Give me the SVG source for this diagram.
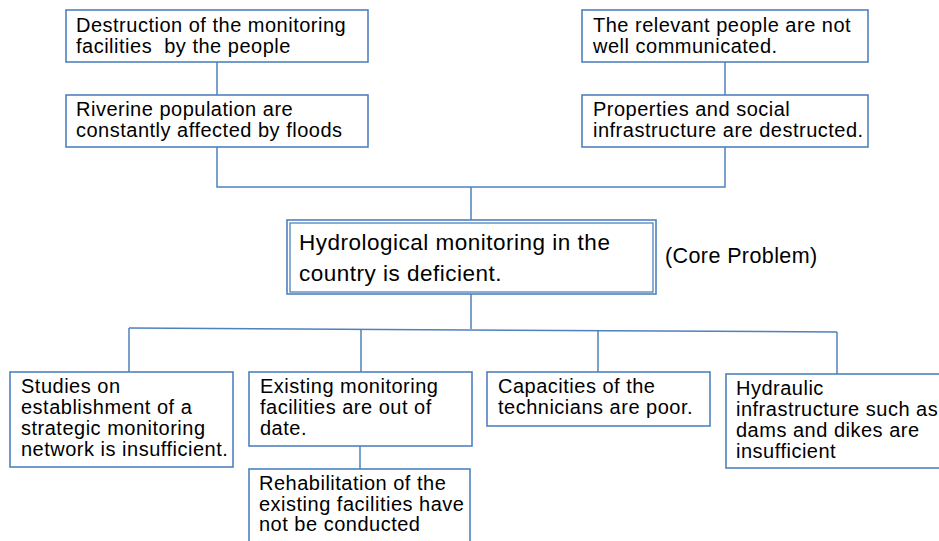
<svg xmlns="http://www.w3.org/2000/svg" width="939" height="541" viewBox="0 0 939 541">
<style>
.box{fill:#fff;stroke:#4f81bd;stroke-width:1.6}
.dbl{fill:none;stroke:#4f81bd;stroke-width:1.3}
.ln{fill:none;stroke:#4f81bd;stroke-width:1.5}
text{font-family:"Liberation Sans",Arial,sans-serif;font-size:20px;letter-spacing:0.5px;fill:#000;white-space:pre}
.core{font-size:22.5px}
.lbl{font-size:21.5px;letter-spacing:0.4px}
</style>
<rect width="939" height="541" fill="#fff"/>
<g id="connectors">
<line class="ln" x1="217" y1="62" x2="217" y2="95"/>
<line class="ln" x1="725" y1="62" x2="725" y2="95"/>
<polyline class="ln" points="217,147 217,187 725,187 725,147"/>
<line class="ln" x1="471" y1="187" x2="471" y2="220"/>
<line class="ln" x1="471" y1="294" x2="471" y2="329"/>
<line class="ln" x1="129" y1="328" x2="837" y2="332"/>
<line class="ln" x1="129" y1="328" x2="129" y2="372"/>
<line class="ln" x1="361" y1="329" x2="361" y2="372"/>
<line class="ln" x1="598" y1="330.7" x2="598" y2="372"/>
<line class="ln" x1="837" y1="332" x2="837" y2="374"/>
<line class="ln" x1="360" y1="446" x2="360" y2="469"/>
</g>
<g id="n1">
<rect class="box" x="66" y="10" width="302" height="52"/>
<text x="76" y="32">Destruction of the monitoring</text>
<text x="76" y="53" xml:space="preserve">facilities  by the people</text>
</g>
<g id="n2">
<rect class="box" x="66" y="95" width="302" height="52"/>
<text x="76" y="116">Riverine population are</text>
<text x="76" y="137">constantly affected by floods</text>
</g>
<g id="n3">
<rect class="box" x="582" y="10" width="286" height="52"/>
<text x="593" y="32">The relevant people are not</text>
<text x="593" y="53">well communicated.</text>
</g>
<g id="n4">
<rect class="box" x="582" y="95" width="286" height="52"/>
<text x="593" y="116">Properties and social</text>
<text x="593" y="137">infrastructure are destructed.</text>
</g>
<g id="core">
<rect class="box" x="287" y="220" width="369" height="74"/>
<rect class="dbl" x="290" y="223" width="363" height="69"/>
<text class="core" x="299" y="250">Hydrological monitoring in the</text>
<text class="core" x="299" y="281">country is deficient.</text>
</g>
<g id="core-label">
<text class="lbl" x="665" y="263">(Core Problem)</text>
</g>
<g id="b1">
<rect class="box" x="10" y="372" width="223" height="95"/>
<text x="21" y="393">Studies on</text>
<text x="21" y="414">establishment of a</text>
<text x="21" y="435">strategic monitoring</text>
<text x="21" y="456">network is insufficient.</text>
</g>
<g id="b2">
<rect class="box" x="249" y="372" width="223" height="74"/>
<text x="260" y="393">Existing monitoring</text>
<text x="260" y="414">facilities are out of</text>
<text x="260" y="435">date.</text>
</g>
<g id="b3">
<rect class="box" x="249" y="469" width="221" height="80"/>
<text x="259" y="490">Rehabilitation of the</text>
<text x="259" y="511">existing facilities have</text>
<text x="259" y="531">not be conducted</text>
</g>
<g id="b4">
<rect class="box" x="487" y="372" width="223" height="54"/>
<text x="498" y="393">Capacities of the</text>
<text x="498" y="414">technicians are poor.</text>
</g>
<g id="b5">
<rect class="box" x="726" y="374" width="222" height="94"/>
<text x="736" y="395">Hydraulic</text>
<text x="736" y="416">infrastructure such as</text>
<text x="736" y="437">dams and dikes are</text>
<text x="736" y="458">insufficient</text>
</g>
</svg>
